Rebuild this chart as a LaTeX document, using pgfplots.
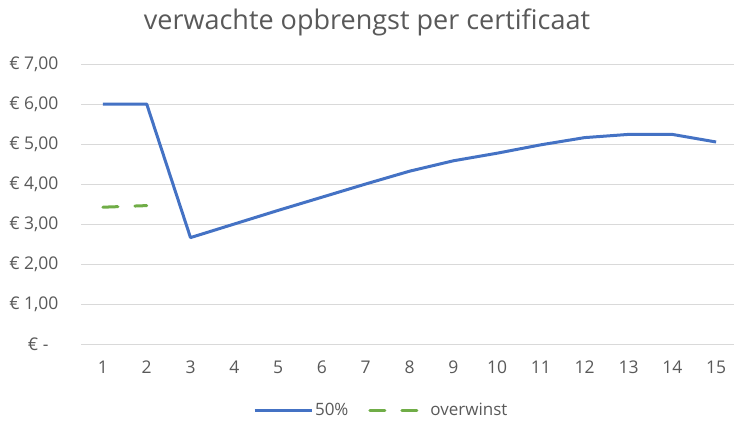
\documentclass[border=0pt]{standalone}
\usepackage{fontspec}
\setmainfont{Open Sans}
\usepackage{pgfplots}
\pgfplotsset{compat=1.18}
\definecolor{xblue}{HTML}{4472C4}
\definecolor{xgreen}{HTML}{70AD47}
\definecolor{xgrid}{HTML}{D9D9D9}
\definecolor{xtext}{HTML}{595959}
\begin{document}
\begin{tikzpicture}[x=1bp,y=1bp]
\path[use as bounding box] (0,0) rectangle (734,421);
\begin{axis}[
  at={(81bp,77bp)}, anchor=south west,
  scale only axis, width=657bp, height=280bp,
  xmin=0.5, xmax=15.5, ymin=0, ymax=7,
  xtick={1,...,15}, ytick={0,...,7},
  yticklabels={{€ -\phantom{0}},{€ 1,00},{€ 2,00},{€ 3,00},{€ 4,00},{€ 5,00},{€ 6,00},{€ 7,00}},
  /pgf/number format/assume math mode=true,
  axis line style={draw=none},
  major tick length=0pt,
  ymajorgrids, grid style={xgrid, line width=1bp},
  tick label style={font=\fontsize{17.5bp}{20bp}\selectfont, text=xtext},
  yticklabel style={xshift=-19bp},
  xticklabel style={yshift=-13bp},
  clip=false,
  legend columns=2,
  legend style={at={(0.457,-0.236)}, anchor=center, draw=none, fill=none,
    font=\fontsize{17bp}{20bp}\selectfont, text=xtext,
    /tikz/every even column/.append style={column sep=18bp}},
  legend image code/.code={\draw[#1] (0bp,0bp) -- (57bp,0bp);},
]
\addplot[xblue, line width=3bp, line join=round] coordinates {
(1,6.00) (2,6.00) (3,2.66) (4,3.00) (5,3.34) (6,3.67) (7,4.00) (8,4.32) (9,4.58) (10,4.77) (11,4.98) (12,5.16) (13,5.24) (14,5.24) (15,5.05)};
\addlegendentry{50\%}
\addplot[xgreen, line width=3bp, line cap=round, dash pattern=on 15bp off 17bp] coordinates {
(1,3.42) (2,3.46)};
\addlegendentry{overwinst}
\end{axis}
\node[text=xtext, font=\fontsize{27bp}{32bp}\selectfont] at (367,399) {verwachte opbrengst per certificaat};
\end{tikzpicture}
\end{document}
